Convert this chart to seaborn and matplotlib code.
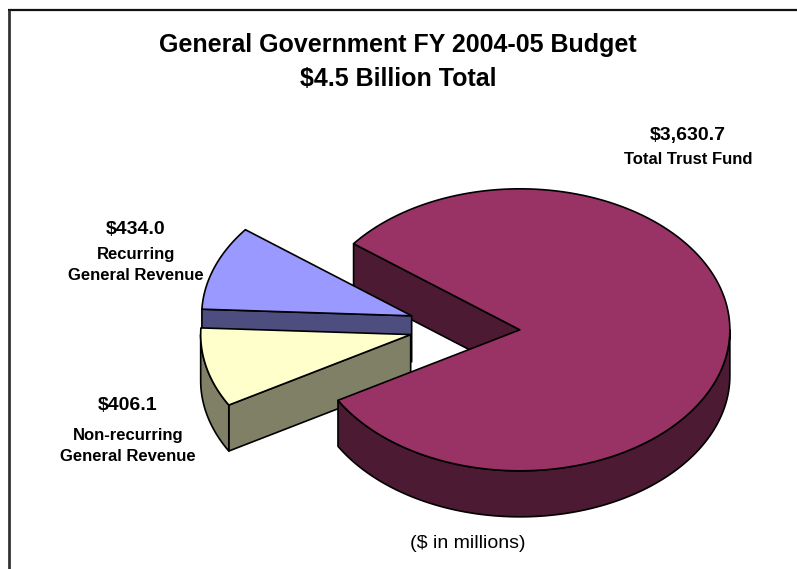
import numpy as np
import matplotlib
matplotlib.use("Agg")
import matplotlib.pyplot as plt
from matplotlib.patches import Polygon
import seaborn as sns

# Budget components ($ in millions)
categories = ["Total Trust Fund", "Recurring\nGeneral Revenue", "Non-recurring\nGeneral Revenue"]
values = [3630.7, 434.0, 406.1]
value_labels = ["$3,630.7", "$434.0", "$406.1"]

top_colors = ["#993366", "#9999ff", "#ffffcc"]
side_colors = ["#4d1a33", "#4d4d80", "#808066"]
explode = [0.30, 0.23, 0.227]

sns.set_style("white")
plt.rcParams["font.family"] = ["Liberation Sans", "DejaVu Sans"]
plt.rcParams["text.color"] = "black"

W, H = 797, 569
fig = plt.figure(figsize=(W / 100, H / 100), dpi=100)
ax = fig.add_axes([0, 0, 1, 1])
ax.set_xlim(0, W)
ax.set_ylim(H, 0)
ax.axis("off")

# 3-D pie geometry (screen units, y pointing down)
cx, cy = 457.0, 327.0
ra, rb = 210.0, 141.0
depth = 46.0
start_angle = 210.0


def pt(ox, oy, t, dz=0.0):
    r = np.radians(t)
    return ox + ra * np.cos(r), oy - rb * np.sin(r) + dz


def arc(ox, oy, t1, t2, dz=0.0, n=160):
    ts = np.linspace(t1, t2, n)
    return [pt(ox, oy, t, dz) for t in ts]


def slice_parts(t1, t2, ox, oy):
    apex = (ox, oy)
    apex_low = (ox, oy + depth)
    radial = []
    if np.cos(np.radians(t1)) > 0:
        p = pt(ox, oy, t1)
        radial.append([apex, p, (p[0], p[1] + depth), apex_low])
    if np.cos(np.radians(t2)) < 0:
        p = pt(ox, oy, t2)
        radial.append([apex, p, (p[0], p[1] + depth), apex_low])
    outer = []
    for k in range(-1, 3):
        lo = max(t1, 180 + 360 * k)
        hi = min(t2, 360 + 360 * k)
        if hi > lo:
            upper = arc(ox, oy, lo, hi)
            lower = arc(ox, oy, lo, hi, depth)[::-1]
            outer.append(upper + lower)
    top = [apex] + arc(ox, oy, t1, t2) + [apex]
    return radial, outer, top


def add_poly(pts, color, z):
    ax.add_patch(Polygon(pts, closed=True, facecolor=color, edgecolor="black",
                         linewidth=1.2, joinstyle="round", zorder=z))


total = sum(values)
spans = [v / total * 360.0 for v in values]
bounds = []
t = start_angle
for s in spans:
    bounds.append((t, t + s))
    t += s

# draw order: back wall of the large slice, the two small slices, then the front of the large slice
z_radial = [1, 2, 4]
z_outer = [6, 2, 4]
z_top = [7, 3, 5]

for i, (t1, t2) in enumerate(bounds):
    mid = np.radians((t1 + t2) / 2)
    ox = cx + explode[i] * ra * np.cos(mid)
    oy = cy - explode[i] * rb * np.sin(mid)
    radial, outer, top = slice_parts(t1, t2, ox, oy)
    for p in radial:
        add_poly(p, side_colors[i], z_radial[i])
    for p in outer:
        add_poly(p, side_colors[i], z_outer[i])
    add_poly(top, top_colors[i], z_top[i])

# Titles
ax.text(398, 45, "General Government FY 2004-05 Budget", ha="center", va="center",
        fontsize=18, fontweight="bold", color="black")
ax.text(398, 79, "$4.5 Billion Total", ha="center", va="center",
        fontsize=18, fontweight="bold", color="black")

# Slice labels
label_pos = [(688, 135, 159), (136, 229, 265), (128, 405, 446)]
for (x, yv, yc), lab, cat in zip(label_pos, value_labels, categories):
    ax.text(x, yv, lab, ha="center", va="center", fontsize=14, fontweight="bold",
            color="black")
    ax.text(x, yc, cat, ha="center", va="center", fontsize=12, fontweight="bold",
            linespacing=1.55, color="black")

ax.text(468, 543, "($ in millions)", ha="center", va="center", fontsize=14,
        color="black")

# Frame lines along the top and left edges
ax.plot([8, W], [10, 10], color="#111111", lw=1.6, zorder=10, solid_capstyle="butt")
ax.plot([9, 9], [10, H], color="#333333", lw=2.0, zorder=10, solid_capstyle="butt")

fig.savefig("out.png", dpi=100)
